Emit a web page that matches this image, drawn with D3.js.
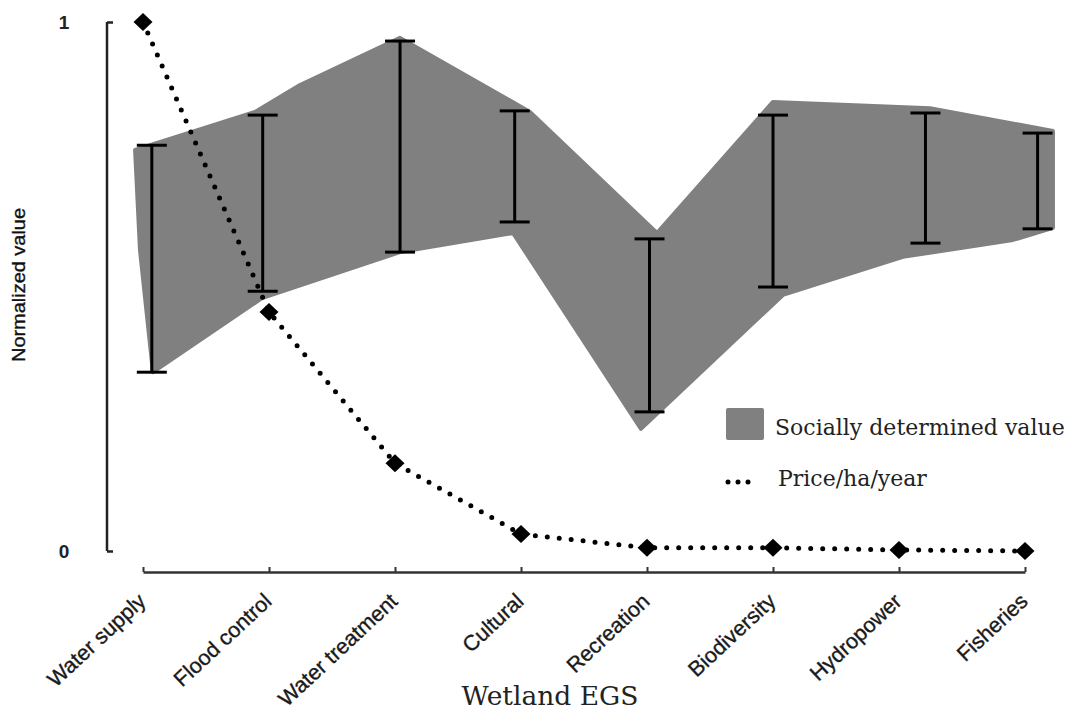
<!DOCTYPE html>
<html>
<head>
<meta charset="utf-8">
<script src="https://cdn.jsdelivr.net/npm/d3@7"></script>
<style>
  html, body { margin: 0; padding: 0; background: #fff; }
  svg { display: block; }
</style>
</head>
<body>
<svg id="chart" width="1069" height="711"></svg>
<script>
// ---- Data ----
const categories = ["Water supply", "Flood control", "Water treatment", "Cultural",
                    "Recreation", "Biodiversity", "Hydropower", "Fisheries"];
// price/ha/year (normalized), one per category
const price = [1.0, 0.452, 0.166, 0.032, 0.006, 0.006, 0.002, 0.0];
// error bars of socially determined value (position along category axis, high, low)
const errPos  = [0.07, 0.95, 2.04, 2.95, 4.02, 5.0, 6.21, 7.10];
const errHigh = [0.767, 0.824, 0.964, 0.832, 0.590, 0.824, 0.828, 0.790];
const errLow  = [0.338, 0.491, 0.565, 0.622, 0.263, 0.499, 0.582, 0.609];
// outline of the shaded band (category-axis position, value), upper edge left->right
const bandUpperPos = [-0.063, 0.889, 1.246, 2.04, 3.071, 4.079, 5.0, 6.246, 7.222];
const bandUpperVal = [0.758, 0.830, 0.881, 0.970, 0.830, 0.601, 0.849, 0.837, 0.794];
// lower edge right->left
const bandLowerPos = [7.222, 6.905, 6.032, 5.079, 3.952, 2.937, 2.04, 0.944, 0.079, -0.024];
const bandLowerVal = [0.611, 0.588, 0.556, 0.484, 0.231, 0.601, 0.565, 0.478, 0.338, 0.569];
const yTicks = [0, 1];
const yTickLabels = ["0", "1"];

// ---- Layout ----
const svg = d3.select("#chart");
const x = d3.scaleLinear().domain([0, categories.length - 1]).range([143, 1025]);
const y = d3.scaleLinear().domain([0, 1]).range([551, 22]);
const grey = "#808080";

// ---- Shaded band ----
const bandPts = bandUpperPos.map((p, i) => [p, bandUpperVal[i]])
  .concat(bandLowerPos.map((p, i) => [p, bandLowerVal[i]]));
const line = d3.line().x(d => x(d[0])).y(d => y(d[1]));
svg.append("path")
  .attr("d", line(bandPts) + "Z")
  .attr("fill", grey)
  .attr("stroke", grey)
  .attr("stroke-width", 4)
  .attr("stroke-linejoin", "round");

// ---- Error bars ----
const capW = 15;
const eg = svg.append("g").attr("stroke", "#000").attr("stroke-width", 3);
errPos.forEach((p, i) => {
  const cx = x(p);
  eg.append("line").attr("x1", cx).attr("x2", cx).attr("y1", y(errHigh[i])).attr("y2", y(errLow[i]));
  eg.append("line").attr("x1", cx - capW).attr("x2", cx + capW).attr("y1", y(errHigh[i])).attr("y2", y(errHigh[i]));
  eg.append("line").attr("x1", cx - capW).attr("x2", cx + capW).attr("y1", y(errLow[i])).attr("y2", y(errLow[i]));
});

// ---- Price line (dotted) ----
const priceLine = d3.line().x((d, i) => x(i)).y(d => y(d));
svg.append("path")
  .attr("d", priceLine(price))
  .attr("fill", "none")
  .attr("stroke", "#000")
  .attr("stroke-width", 5)
  .attr("stroke-linecap", "round")
  .attr("stroke-dasharray", "0 12");
svg.append("g").selectAll("path").data(price).join("path")
  .attr("transform", (d, i) => `translate(${x(i)},${y(d)})`)
  .attr("d", "M0,-9L9.5,0L0,9L-9.5,0Z")
  .attr("fill", "#000");

// ---- Y axis ----
const yAxisX = 107;
const yAxis = d3.axisRight(y).tickValues(yTicks).tickSize(6).tickFormat("");
const yg = svg.append("g").attr("transform", `translate(${yAxisX},0)`).call(yAxis);
yg.select(".domain").remove();
yg.append("line").attr("x1", 0).attr("x2", 0).attr("y1", y(1)).attr("y2", y(0))
  .attr("stroke", "#222").attr("stroke-width", 2.5);
yg.selectAll(".tick line").attr("stroke", "#222").attr("stroke-width", 2.5);
svg.append("g").selectAll("text").data(yTicks).join("text")
  .attr("x", 64).attr("y", d => y(d) + 7)
  .attr("text-anchor", "middle")
  .attr("font-family", "Liberation Sans, Arial, sans-serif")
  .attr("font-size", 19).attr("font-weight", "bold").attr("fill", "#222")
  .text((d, i) => yTickLabels[i]);
svg.append("text")
  .attr("transform", "translate(25,285) rotate(-90)")
  .attr("text-anchor", "middle")
  .attr("font-family", "Liberation Sans, Arial, sans-serif")
  .attr("font-size", 19).attr("fill", "#111")
  .attr("stroke", "#111").attr("stroke-width", 0.35)
  .attr("textLength", 154).attr("lengthAdjust", "spacingAndGlyphs")
  .text("Normalized value");

// ---- X axis ----
const xAxis = d3.axisTop(x).tickValues(d3.range(categories.length))
  .tickSize(5).tickSizeOuter(0).tickFormat("");
const xg = svg.append("g").attr("transform", "translate(0,572)").call(xAxis);
xg.select(".domain").attr("stroke", "#333").attr("stroke-width", 2.5);
xg.selectAll(".tick line").attr("stroke", "#333").attr("stroke-width", 2);
svg.append("g").selectAll("text").data(categories).join("text")
  .attr("transform", (d, i) => `translate(${x(i) + 4},${603}) rotate(-43)`)
  .attr("text-anchor", "end")
  .attr("font-family", "Liberation Sans, Arial, sans-serif")
  .attr("font-size", 21.5).attr("fill", "#1a1a1a")
  .attr("stroke", "#1a1a1a").attr("stroke-width", 0.35)
  .text(d => d);
svg.append("text")
  .attr("x", 550).attr("y", 705)
  .attr("text-anchor", "middle")
  .attr("font-family", "DejaVu Serif, serif")
  .attr("font-size", 26.5).attr("fill", "#222")
  .text("Wetland EGS");

// ---- Legend ----
const lg = svg.append("g");
lg.append("rect").attr("x", 726).attr("y", 408).attr("width", 38).attr("height", 32)
  .attr("fill", grey).attr("rx", 2);
lg.append("text").attr("x", 775).attr("y", 435)
  .attr("font-family", "DejaVu Serif, serif").attr("font-size", 22).attr("fill", "#222")
  .text("Socially determined value");
lg.append("line").attr("x1", 728).attr("x2", 758).attr("y1", 482).attr("y2", 482)
  .attr("stroke", "#000").attr("stroke-width", 5).attr("stroke-linecap", "round")
  .attr("stroke-dasharray", "0 10");
lg.append("text").attr("x", 778).attr("y", 486)
  .attr("font-family", "DejaVu Serif, serif").attr("font-size", 22).attr("fill", "#222")
  .text("Price/ha/year");
</script>
</body>
</html>
